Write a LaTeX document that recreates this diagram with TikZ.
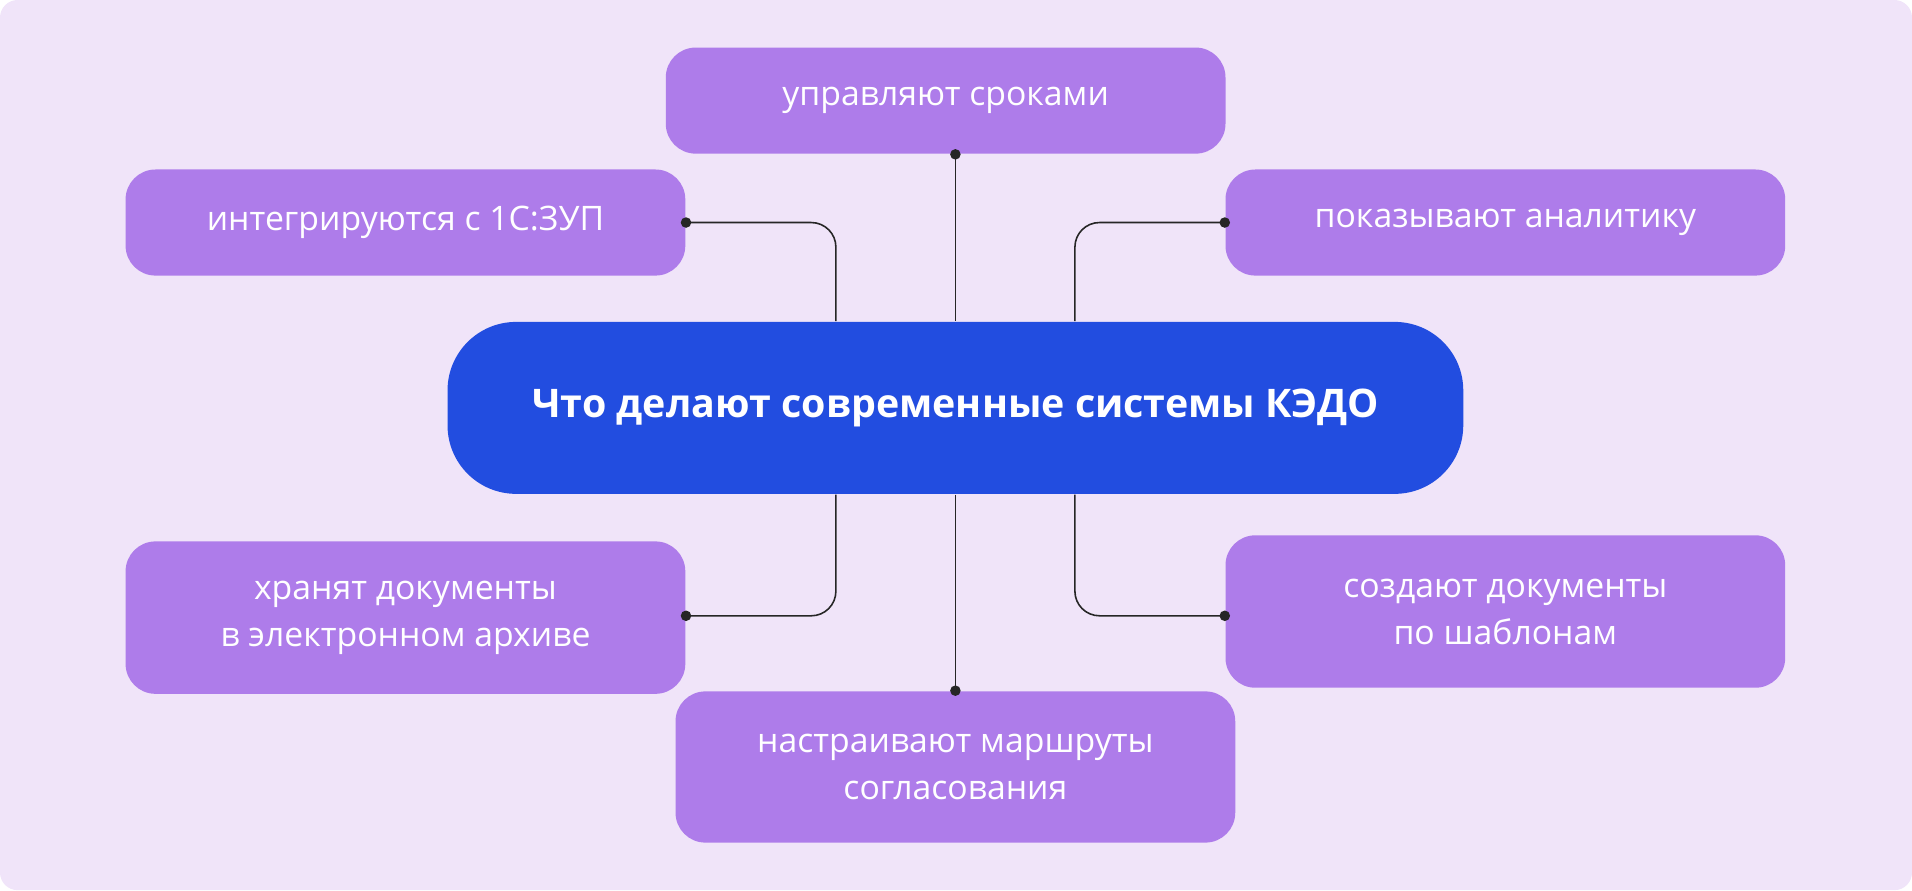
\documentclass[tikz,border=0pt]{standalone}
\usepackage{fontspec}
\setmainfont{Open Sans}
\usetikzlibrary{positioning, calc}
\definecolor{bgc}{HTML}{F0E4F9}
\definecolor{boxc}{HTML}{AE7CEA}
\definecolor{mainc}{HTML}{224DE0}
\begin{document}
\begin{tikzpicture}[
    x=0.1219mm, y=-0.1219mm,
    item/.style={rectangle, rounded corners=8.5pt, fill=boxc, text=white, align=center,
      minimum width=459*0.1219mm, font=\fontsize{9.6}{13.4}\selectfont, inner sep=0pt},
    dot/.style={circle, fill=black!85, inner sep=0pt, minimum size=3pt},
    link/.style={draw=black!85, line width=0.45pt, rounded corners=7pt}
    ]
    % background
    \fill[bgc, rounded corners=5pt] (0,0) rectangle (1568,730);

    % central node
    \node[rectangle, rounded corners=19.5pt, fill=mainc, text=white,
      minimum width=833*0.1219mm, minimum height=141*0.1219mm,
      font=\fontsize{11.2}{13}\selectfont\bfseries] (main) at (783.5,334.5)
      {Что делают современные системы КЭДО};

    % items
    \node[item, minimum height=87*0.1219mm] (top) at (775.5,82.5) {управляют сроками};
    \node[item, minimum height=87*0.1219mm] (lt) at (332.5,182.5) {интегрируются с 1С:ЗУП};
    \node[item, minimum height=87*0.1219mm] (rt) at (1234.5,182.5) {показывают аналитику};
    \node[item, minimum height=125*0.1219mm] (lb) at (332.5,506.5) {хранят документы\\в электронном архиве};
    \node[item, minimum height=125*0.1219mm] (rb) at (1234.5,501.5) {создают документы\\по шаблонам};
    \node[item, minimum height=124*0.1219mm] (bot) at (783.5,629) {настраивают маршруты\\согласования};

    % connectors
    \coordinate (lt end) at ($(main.north)+(-98,0)$);
    \coordinate (rt end) at ($(main.north)+(98,0)$);
    \coordinate (lb end) at ($(main.south)+(-98,0)$);
    \coordinate (rb end) at ($(main.south)+(98,0)$);
    \draw[link] (top.south -| main.north) -- (main.north);
    \draw[link] (lt.east) -| (lt end);
    \draw[link] (rt.west) -| (rt end);
    \draw[link] (lb end) |- ($(lb.east)+(0,-1.5)$);
    \draw[link] (rb end) |- ($(rb.west)+(0,3.5)$);
    \draw[link] (main.south) -- (main.south |- bot.north);

    % dots
    \node[dot] at (top.south -| main.north) {};
    \node[dot] at (lt.east) {};
    \node[dot] at (rt.west) {};
    \node[dot] at ($(lb.east)+(0,-1.5)$) {};
    \node[dot] at ($(rb.west)+(0,3.5)$) {};
    \node[dot] at (main.south |- bot.north) {};
\end{tikzpicture}
\end{document}
